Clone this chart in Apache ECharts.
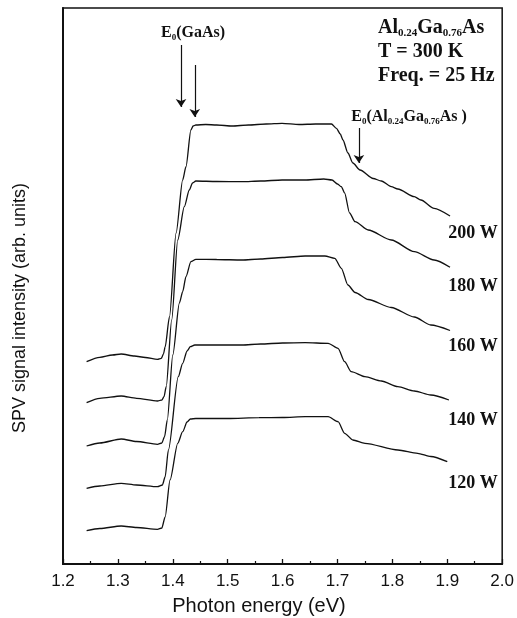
<!DOCTYPE html>
<html>
<head>
<meta charset="utf-8">
<script src="https://cdn.jsdelivr.net/npm/echarts@6/dist/echarts.min.js"></script>
<style>
  html, body { margin: 0; padding: 0; background: #fff; }
  #chart { width: 517px; height: 618px; }
</style>
</head>
<body>
<div id="chart"></div>
<script>
// SPV spectra of Al0.24Ga0.76As at several powers: [photon energy (eV), signal (arb. units)]
const spv200W = [
  [1.243, 202.3], [1.267, 206.7], [1.290, 209], [1.306, 210], [1.330, 208], [1.350, 206.5],
  [1.372, 204.7], [1.379, 205.7], [1.383, 210], [1.386, 217], [1.394, 247.3], [1.406, 331],
  [1.418, 384], [1.424, 397.3], [1.433, 434], [1.437, 438], [1.442, 439], [1.460, 439.5],
  [1.480, 439], [1.508, 438], [1.538, 439], [1.570, 440], [1.599, 440.7], [1.630, 439.5],
  [1.660, 440], [1.689, 440], [1.698, 435.7], [1.705, 430], [1.710, 424], [1.719, 411],
  [1.728, 401], [1.741, 394], [1.765, 385.5], [1.780, 383], [1.798, 377.3], [1.810, 375],
  [1.840, 367.3], [1.852, 364], [1.876, 355.7], [1.905, 348]
];
const spv180W = [
  [1.243, 161.3], [1.267, 165.7], [1.306, 168], [1.334, 165.7], [1.372, 163], [1.380, 164],
  [1.384, 167.3], [1.388, 177.3], [1.398, 244], [1.409, 324], [1.421, 357.3], [1.430, 374],
  [1.436, 381], [1.442, 383], [1.480, 382.5], [1.526, 382.3], [1.560, 383], [1.599, 384],
  [1.640, 384], [1.675, 385], [1.690, 384], [1.700, 380], [1.707, 377.3], [1.713, 371],
  [1.722, 351], [1.732, 342.3], [1.756, 334], [1.798, 324], [1.840, 312.3], [1.876, 304],
  [1.905, 296.7]
];
const spv160W = [
  [1.243, 118], [1.267, 121], [1.306, 125], [1.334, 122.5], [1.372, 119.7], [1.380, 121],
  [1.385, 127.3], [1.390, 144], [1.400, 209], [1.412, 261], [1.418, 272.3], [1.424, 287.3],
  [1.433, 302.3], [1.442, 304.7], [1.480, 304.5], [1.526, 304], [1.560, 305], [1.600, 306.5],
  [1.641, 308], [1.677, 308], [1.695, 305.7], [1.707, 295.7], [1.719, 279], [1.732, 271.5],
  [1.756, 264.5], [1.798, 256.5], [1.840, 247], [1.870, 239], [1.905, 233.5]
];
const spv140W = [
  [1.243, 75.7], [1.267, 78], [1.306, 80.7], [1.334, 79], [1.372, 77.3], [1.381, 79],
  [1.386, 87], [1.392, 114], [1.410, 187.3], [1.418, 200.7], [1.426, 213], [1.432, 217.3],
  [1.440, 219], [1.480, 219], [1.526, 219], [1.560, 220], [1.600, 221], [1.641, 221.3],
  [1.683, 220.7], [1.701, 215.7], [1.713, 202.3], [1.725, 192.3], [1.750, 187.3], [1.780, 183],
  [1.810, 177.3], [1.840, 173], [1.870, 169], [1.903, 164]
];
const spv120W = [
  [1.243, 33.3], [1.267, 35.5], [1.306, 38], [1.334, 36.5], [1.372, 34.7], [1.380, 36],
  [1.386, 47], [1.395, 84], [1.409, 120.7], [1.418, 132.3], [1.426, 142], [1.432, 145],
  [1.442, 145.5], [1.500, 145.5], [1.557, 146.3], [1.600, 146.5], [1.641, 147.3], [1.683, 147.3],
  [1.701, 142.3], [1.713, 130.7], [1.728, 124], [1.750, 120.7], [1.810, 114], [1.846, 110.7],
  [1.870, 107.5], [1.900, 102.3]
];
const powerLabels = ['200 W', '180 W', '160 W', '140 W', '120 W'];
const xTicks = ['1.2', '1.3', '1.4', '1.5', '1.6', '1.7', '1.8', '1.9', '2.0'];

// Band-gap markers: [energy, arrow start, arrow tip] in data units
const gapArrows = [
  [1.415, 519, 457],
  [1.440, 499, 447],
  [1.739, 436, 401]
];

const serif = '"Liberation Serif", "Times New Roman", serif';
const sans = '"Liberation Sans", Arial, sans-serif';

const chart = echarts.init(document.getElementById('chart'), null, { renderer: 'canvas' });

const lineSeries = (data, withArrows) => {
  const s = {
    type: 'line',
    data: data,
    showSymbol: false,
    smooth: 0.25,
    smoothMonotone: 'x',
    lineStyle: { color: '#111', width: 1.3 },
    silent: true
  };
  if (withArrows) {
    s.markLine = {
      silent: true,
      symbol: ['none', 'arrow'],
      symbolSize: [8, 8],
      label: { show: false },
      lineStyle: { color: '#111', width: 1.2, type: 'solid' },
      data: gapArrows.map(a => [{ coord: [a[0], a[1]] }, { coord: [a[0], a[2]] }])
    };
  }
  return s;
};

const boldSerif = (size) => ({ fontFamily: serif, fontWeight: 'bold', fontSize: size, fill: '#111' });

const labelYs = [233, 286, 346, 420, 483];

chart.setOption({
  animation: false,
  backgroundColor: '#fff',
  grid: { left: 63, right: 12, top: 8, bottom: 54, show: true, borderColor: '#111', borderWidth: 1.5 },
  xAxis: {
    type: 'value',
    min: 1.2, max: 2.0, interval: 0.1,
    axisLine: { lineStyle: { color: '#111', width: 2 } },
    axisTick: { inside: true, length: 5, lineStyle: { color: '#111', width: 1.3 } },
    minorTick: { show: true, splitNumber: 2, length: 3, lineStyle: { color: '#111', width: 1.2 } },
    splitLine: { show: false },
    axisLabel: {
      margin: 9, color: '#111', fontFamily: sans, fontSize: 17,
      formatter: (v) => xTicks[Math.round((v - 1.2) * 10)] || ''
    }
  },
  yAxis: {
    type: 'value',
    min: 0, max: 556,
    axisLine: { show: true, lineStyle: { color: '#111', width: 2 } },
    axisTick: { show: false },
    axisLabel: { show: false },
    splitLine: { show: false }
  },
  series: [
    lineSeries(spv200W, true),
    lineSeries(spv180W),
    lineSeries(spv160W),
    lineSeries(spv140W),
    lineSeries(spv120W)
  ],
  graphic: [
    {
      type: 'text', x: 20, y: 308, rotation: Math.PI / 2,
      style: { text: 'SPV signal intensity (arb. units)', fontFamily: sans, fontSize: 18, fill: '#111',
               textAlign: 'center', textVerticalAlign: 'middle' }
    },
    {
      type: 'text', x: 259, y: 606,
      style: { text: 'Photon energy (eV)', fontFamily: sans, fontSize: 20, fill: '#111',
               textAlign: 'center', textVerticalAlign: 'middle' }
    },
    {
      type: 'text', x: 193, y: 33,
      style: {
        text: '{m|E}{s|0}{m|(GaAs)}', textAlign: 'center', textVerticalAlign: 'middle',
        rich: {
          m: Object.assign(boldSerif(16), { lineHeight: 18 }),
          s: Object.assign(boldSerif(9), { verticalAlign: 'bottom', lineHeight: 18 })
        }
      }
    },
    {
      type: 'text', x: 409, y: 117,
      style: {
        text: '{m|E}{s|0}{m|(Al}{s|0.24}{m|Ga}{s|0.76}{m|As )}', textAlign: 'center', textVerticalAlign: 'middle',
        rich: {
          m: Object.assign(boldSerif(16), { lineHeight: 18 }),
          s: Object.assign(boldSerif(9), { verticalAlign: 'bottom', lineHeight: 18 })
        }
      }
    },
    {
      type: 'text', x: 378, y: 28,
      style: {
        text: '{m|Al}{s|0.24}{m|Ga}{s|0.76}{m|As}', textAlign: 'left', textVerticalAlign: 'middle',
        rich: {
          m: Object.assign(boldSerif(20), { lineHeight: 22 }),
          s: Object.assign(boldSerif(11), { verticalAlign: 'bottom', lineHeight: 22 })
        }
      }
    },
    {
      type: 'text', x: 378, y: 52,
      style: Object.assign(boldSerif(20), { text: 'T = 300 K', textAlign: 'left', textVerticalAlign: 'middle' })
    },
    {
      type: 'text', x: 378, y: 76,
      style: Object.assign(boldSerif(20), { text: 'Freq. = 25 Hz', textAlign: 'left', textVerticalAlign: 'middle' })
    }
  ].concat(powerLabels.map((t, i) => ({
    type: 'text', x: 473, y: labelYs[i],
    style: Object.assign(boldSerif(18), { text: t, textAlign: 'center', textVerticalAlign: 'middle' })
  })))
});
</script>
</body>
</html>
